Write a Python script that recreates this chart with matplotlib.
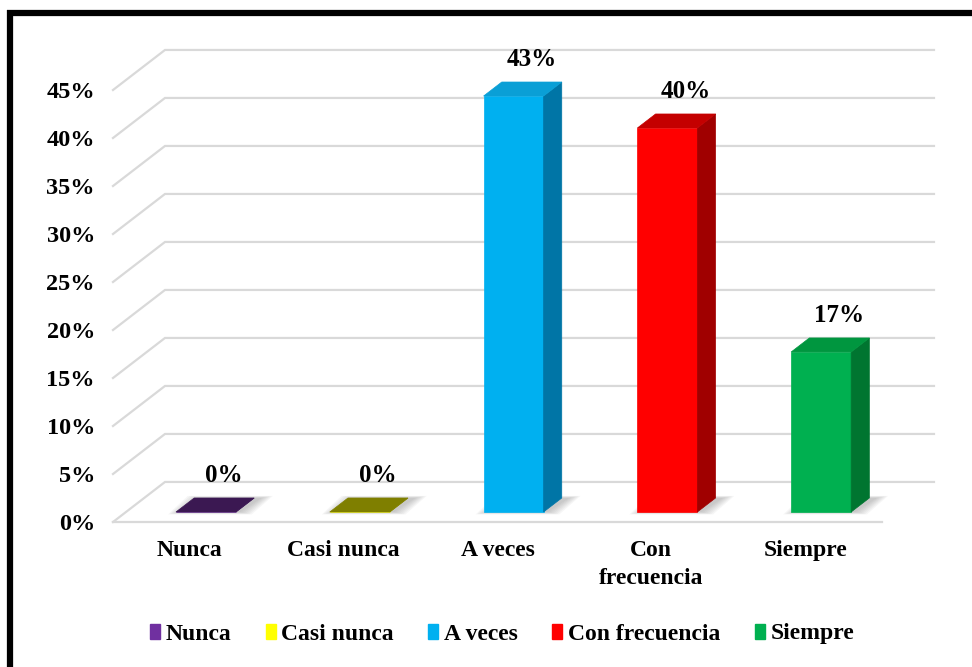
import matplotlib.pyplot as plt
from matplotlib.patches import Polygon, Patch
from matplotlib.lines import Line2D

categorias = ["Nunca", "Casi nunca", "A veces", "Con\nfrecuencia", "Siempre"]
leyenda = ["Nunca", "Casi nunca", "A veces", "Con frecuencia", "Siempre"]
porcentajes = [0, 0, 43.33, 40.0, 16.67]
yticks = [0, 5, 10, 15, 20, 25, 30, 35, 40, 45]

color_frente = ["#7030a0", "#ffff00", "#00b0f0", "#ff0000", "#00b050"]
color_lado = ["#4a1f6b", "#a0a000", "#0075a6", "#a00000", "#007530"]
color_tapa = ["#3b1852", "#7f7f00", "#0a9fd6", "#c40000", "#00963f"]

plt.rcParams["font.family"] = ["Liberation Serif", "DejaVu Serif"]
plt.rcParams["font.weight"] = "bold"

fig = plt.figure(figsize=(9.72, 6.67), dpi=100)
ax = fig.add_axes([113 / 972, 145 / 667, 769 / 972, 432 / 667])
ax.set_xlim(-0.5, 4.5)
ax.set_ylim(0, 45)
ax.patch.set_visible(False)
for s in ax.spines.values():
    s.set_visible(False)

# profundidad del grafico 3D (unidades de datos)
DX, DY = 0.338, 4.17
d0, d1 = 0.25, 0.6
ancho = 0.39

gris = "#d9d9d9"
for v in yticks:
    ax.plot([-0.5, -0.5 + DX, 4.5 + DX], [v, v + DY, v + DY], color=gris,
            lw=1.6, clip_on=False, zorder=1, solid_joinstyle="miter")
ax.plot([-0.5, 4.5], [0, 0], color=gris, lw=1.6, clip_on=False, zorder=1)

ddx = (d1 - d0) * DX
ddy = (d1 - d0) * DY
for i, v in enumerate(porcentajes):
    x0 = i - ancho / 2 + d0 * DX + 0.02
    x1 = x0 + ancho
    y0 = d0 * DY
    y1 = v + d0 * DY

    # sombra suave en el piso
    for k in range(7):
        e = 0.012 * k
        sombra = [(x0 - e + 0.02, y0 - 0.3 * k / 7), (x1 + e + 0.03, y0 - 0.3 * k / 7),
                  (x1 + ddx + e + 0.05, y0 + ddy + 0.25 * k / 7),
                  (x0 + ddx - e + 0.03, y0 + ddy + 0.25 * k / 7)]
        ax.add_patch(Polygon(sombra, closed=True, facecolor="#808080", edgecolor="none",
                             alpha=0.07, clip_on=False, zorder=2))

    frente = [(x0, y0), (x1, y0), (x1, y1), (x0, y1)]
    lado = [(x1, y0), (x1 + ddx, y0 + ddy), (x1 + ddx, y1 + ddy), (x1, y1)]
    tapa = [(x0, y1), (x1, y1), (x1 + ddx, y1 + ddy), (x0 + ddx, y1 + ddy)]
    for pts, c in [(frente, color_frente[i]), (lado, color_lado[i]), (tapa, color_tapa[i])]:
        ax.add_patch(Polygon(pts, closed=True, facecolor=c, edgecolor=c, lw=0.5,
                             clip_on=False, zorder=3))

    ax.annotate(f"{v:.0f}%", xy=(x0 + ddx + ancho / 2, y1 + ddy), xytext=(0, 16),
                textcoords="offset points", ha="center", va="center",
                fontsize=18, fontweight="bold", zorder=5, annotation_clip=False)

ax.set_yticks(yticks)
ax.set_yticklabels([f"{v}%" for v in yticks], fontsize=17.5, fontweight="bold")
ax.set_xticks(range(len(categorias)))
ax.set_xticklabels(categorias, fontsize=17, fontweight="bold", linespacing=1.45)
ax.tick_params(axis="y", length=0, pad=13)
ax.tick_params(axis="x", length=0, pad=13)

handles = [Patch(facecolor=c, edgecolor=c) for c in color_frente]
fig.legend(handles, leyenda, loc="center", bbox_to_anchor=(502 / 972, 1 - 634 / 667),
           ncol=5, frameon=False, handlelength=0.42, handleheight=0.6,
           handletextpad=0.25, columnspacing=1.45,
           prop={"family": "Liberation Serif", "weight": "bold", "size": 17})

# marco negro
fig.add_artist(Line2D([7 / 972, 1], [1 - 13 / 667, 1 - 13 / 667], color="black",
                      lw=4.5, transform=fig.transFigure, solid_capstyle="butt"))
fig.add_artist(Line2D([10 / 972, 10 / 972], [0, 1 - 10 / 667], color="black",
                      lw=4.5, transform=fig.transFigure, solid_capstyle="butt"))

fig.savefig("out.png", dpi=100)
